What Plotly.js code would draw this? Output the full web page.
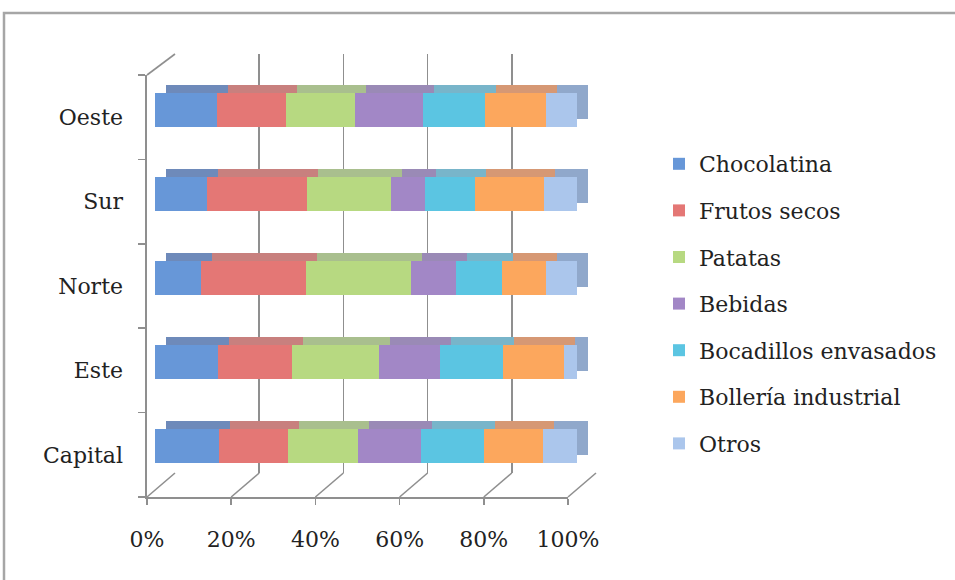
<!DOCTYPE html>
<html>
<head>
<meta charset="utf-8">
<script src="https://cdn.plot.ly/plotly-3.0.1.min.js"></script>
<style>
html,body{margin:0;padding:0;background:#fff;}
#chart{width:955px;height:580px;}
</style>
</head>
<body>
<div id="chart"></div>
<script>
// ---- data ----
const regions = ['Capital', 'Este', 'Norte', 'Sur', 'Oeste'];
const seriesNames = ['Chocolatina', 'Frutos secos', 'Patatas', 'Bebidas',
                     'Bocadillos envasados', 'Bollería industrial', 'Otros'];
const chocolatina = [15.2, 14.9, 10.8, 12.3, 14.6];
const frutosSecos = [16.4, 17.5, 24.9, 23.7, 16.4];
const patatas     = [16.5, 20.6, 25.0, 19.9, 16.4];
const bebidas     = [14.9, 14.6, 10.7,  8.1, 16.2];
const bocadillos  = [15.0, 14.8, 10.8, 11.9, 14.7];
const bolleria    = [13.9, 14.6, 10.5, 16.2, 14.4];
const otros       = [ 8.1,  3.0,  7.3,  7.9,  7.3];
const tickValues  = [0, 20, 40, 60, 80, 100];
const tickLabels  = ['0%', '20%', '40%', '60%', '80%', '100%'];

const seriesValues = [chocolatina, frutosSecos, patatas, bebidas, bocadillos, bolleria, otros];
const frontColors = ['#6797d8', '#e47775', '#b7d981', '#a287c6', '#5bc5e2', '#fca75d', '#abc6ec'];
const topColors   = ['#6e8aba', '#c8807e', '#a9bf8e', '#9a8ab6', '#78b5ca', '#d69874', '#90a8cb'];

// ---- geometry helpers (pixels -> paper) ----
const W = 955, H = 580;
const fx = p => p / W;
const fy = p => 1 - p / H;
const FONT = 'DejaVu Serif, Liberation Serif, serif';

const traces = [];
// dummy traces so the wall/floor subplots exist
traces.push({type: 'scatter', x: [0], y: [0], xaxis: 'x', yaxis: 'y', mode: 'markers',
  marker: {opacity: 0}, showlegend: false, hoverinfo: 'skip'});
traces.push({type: 'scatter', x: regions.map(() => 0), y: regions, xaxis: 'x2', yaxis: 'y2',
  mode: 'markers', marker: {opacity: 0}, showlegend: false, hoverinfo: 'skip'});

// depth (top/side faces) layer
seriesNames.forEach((name, i) => {
  traces.push({type: 'bar', orientation: 'h', name: name, x: seriesValues[i], y: regions,
    xaxis: 'x3', yaxis: 'y3', width: 0.393, marker: {color: topColors[i], line: {width: 0}},
    showlegend: false, hoverinfo: 'skip'});
});
// front faces
seriesNames.forEach((name, i) => {
  traces.push({type: 'bar', orientation: 'h', name: name, x: seriesValues[i], y: regions,
    xaxis: 'x4', yaxis: 'y4', width: 0.393, marker: {color: frontColors[i], line: {width: 0}},
    legendgroup: 'g' + i, showlegend: true});
});

const hidden = {visible: false, fixedrange: true};
const catRange = [-0.5, regions.length - 0.5];

const layout = {
  width: W, height: H,
  margin: {l: 0, r: 0, t: 0, b: 0},
  paper_bgcolor: '#ffffff', plot_bgcolor: 'rgba(0,0,0,0)',
  barmode: 'stack', barnorm: 'percent',
  showlegend: true,
  font: {family: FONT, size: 22, color: '#222222'},
  // back wall grid
  xaxis: {domain: [fx(175), fx(596)], range: [0, 100], tickvals: tickValues,
    showgrid: true, gridcolor: '#8f8f8f', gridwidth: 1.6, showticklabels: false,
    ticks: '', zeroline: false, showline: false, anchor: 'y', fixedrange: true},
  yaxis: {domain: [fy(473), fy(54)], range: [0, 1], showgrid: false, showticklabels: false,
    ticks: '', zeroline: false, showline: false, anchor: 'x', fixedrange: true},
  // front wall / floor with labels
  xaxis2: {domain: [fx(147), fx(568)], range: [0, 100], tickvals: tickValues, ticktext: tickLabels,
    showgrid: false, zeroline: false, showline: true, linecolor: '#8f8f8f', linewidth: 1.6,
    ticks: 'outside', ticklen: 6, tickwidth: 1.6, tickcolor: '#8f8f8f',
    ticklabelstandoff: 16, tickfont: {family: FONT, size: 22, color: '#222222'},
    anchor: 'y2', side: 'bottom', fixedrange: true},
  yaxis2: {domain: [fy(497), fy(75)], type: 'category', categoryorder: 'array', categoryarray: regions,
    range: catRange, showgrid: false, zeroline: false, showline: true, linecolor: '#8f8f8f',
    linewidth: 1.6, ticks: 'outside', tickson: 'boundaries', ticklen: 7, tickwidth: 1.6,
    tickcolor: '#8f8f8f', ticklabelstandoff: 18, tickfont: {family: FONT, size: 22, color: '#222222'},
    anchor: 'x2', side: 'left', fixedrange: true},
  // depth layer (shifted right/up)
  xaxis3: Object.assign({domain: [fx(166), fx(588)], range: [0, 100], anchor: 'y3'}, hidden),
  yaxis3: Object.assign({domain: [fy(480), fy(60)], type: 'category', categoryorder: 'array',
    categoryarray: regions, range: catRange, anchor: 'x3'}, hidden),
  // front faces
  xaxis4: Object.assign({domain: [fx(155), fx(577)], range: [0, 100], anchor: 'y4'}, hidden),
  yaxis4: Object.assign({domain: [fy(488), fy(68)], type: 'category', categoryorder: 'array',
    categoryarray: regions, range: catRange, anchor: 'x4'}, hidden),
  legend: {x: fx(659), y: fy(143), xanchor: 'left', yanchor: 'top',
    traceorder: 'grouped', tracegroupgap: 15, bgcolor: 'rgba(0,0,0,0)',
    font: {family: FONT, size: 22, color: '#222222'}, itemclick: false, itemdoubleclick: false},
  shapes: []
};

// 3D frame decorations: floor diagonals and left wall top edge
const step = (568 - 147) / (tickValues.length - 1);
tickValues.forEach((v, k) => {
  layout.shapes.push({type: 'line', xref: 'paper', yref: 'paper',
    x0: fx(147 + k * step), y0: fy(497), x1: fx(175 + k * step), y1: fy(473),
    line: {color: '#8f8f8f', width: 1.6}});
});
layout.shapes.push({type: 'line', xref: 'paper', yref: 'paper',
  x0: fx(147), y0: fy(75), x1: fx(175), y1: fy(54), line: {color: '#8f8f8f', width: 1.6}});
// outer chart frame
layout.shapes.push({type: 'rect', xref: 'paper', yref: 'paper',
  x0: fx(4), y0: fy(13), x1: fx(970), y1: fy(600), line: {color: '#a6a6a6', width: 2.5},
  fillcolor: 'rgba(0,0,0,0)'});

Plotly.newPlot('chart', traces, layout, {staticPlot: true, displayModeBar: false});
</script>
</body>
</html>
